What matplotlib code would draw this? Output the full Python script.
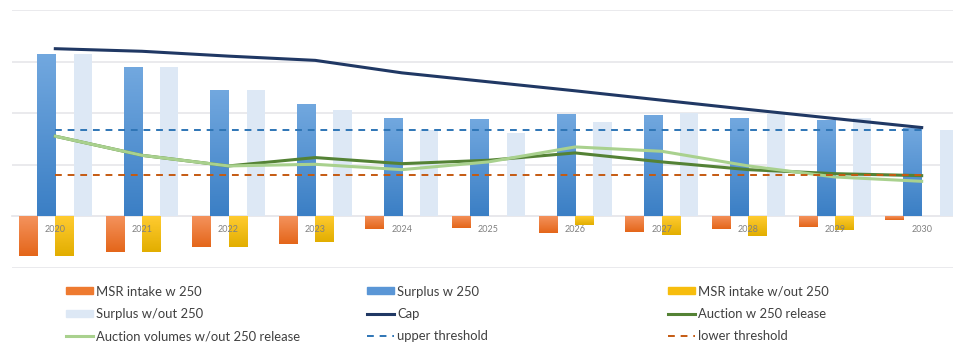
import numpy as np
import matplotlib.pyplot as plt
from matplotlib.colors import LinearSegmentedColormap
from matplotlib.patches import Patch
from matplotlib.lines import Line2D

plt.rcParams['font.family'] = ['Lato', 'DejaVu Sans']

years = [str(y) for y in range(2020, 2031)]
msr_w250 = [-382, -346, -298, -265, -126, -117, -159, -152, -126, -100, -32]
surplus_w250 = [1573, 1447, 1223, 1087, 955, 948, 990, 981, 955, 932, 861]
msr_wo250 = [-382, -346, -298, -252, 0, 0, -81, -178, -191, -129, 0]
surplus_wo250 = [1573, 1447, 1223, 1029, 835, 809, 913, 1003, 997, 958, 835]
cap = [1625, 1600, 1553, 1512, 1391, 1304, 1217, 1126, 1036, 948, 861]
auction_w250 = [777, 592, 489, 570, 511, 544, 615, 528, 453, 414, 395]
auction_wo250 = [777, 592, 489, 505, 453, 528, 673, 631, 489, 382, 340]
upper_threshold = 833
lower_threshold = 400

W, H = 954, 342
fig = plt.figure(figsize=(W / 100, H / 100), dpi=100)
ax = fig.add_axes([12 / W, (H - 268) / H, (965 - 12) / W, 258 / H])

x = np.arange(len(years))
bw = 0.21


def gradient_bars(ax, xpos, vals, top, bottom, **kw):
    bars = ax.bar(xpos, vals, bw, color=bottom, **kw)
    cmap = LinearSegmentedColormap.from_list('g', [bottom, top])
    grad = np.linspace(0, 1, 64).reshape(-1, 1)
    for b in bars:
        x0, y0 = b.get_x(), b.get_y()
        w, h = b.get_width(), b.get_height()
        if h == 0:
            continue
        lo, hi = min(y0, y0 + h), max(y0, y0 + h)
        im = ax.imshow(grad, cmap=cmap, extent=[x0, x0 + w, lo, hi],
                       origin='lower', aspect='auto', zorder=b.get_zorder())
        im.set_clip_path(b)
    return bars


gradient_bars(ax, x - 1.5 * bw, msr_w250, '#f4925c', '#e4661a', zorder=2)
gradient_bars(ax, x - 0.5 * bw, surplus_w250, '#72a8df', '#3b7fc5', zorder=2)
gradient_bars(ax, x + 0.5 * bw, msr_wo250, '#ffcb30', '#e2ae00', zorder=2)
ax.bar(x + 1.5 * bw, surplus_wo250, bw, color='#dde8f5', zorder=2)

ax.plot(x, cap, color='#203864', lw=2.2, zorder=4)
ax.plot(x, auction_w250, color='#548235', lw=2.2, zorder=4)
ax.plot(x, auction_wo250, color='#a9d18e', lw=2.2, zorder=4)
ax.plot(x, np.full(len(x), upper_threshold), color='#2e75b6', lw=1.4,
        ls=(0, (3.5, 3)), zorder=5)
ax.plot(x, np.full(len(x), lower_threshold), color='#c55a11', lw=1.4,
        ls=(0, (3.5, 3)), zorder=5)

ax.set_xlim(-0.5, 10.5)
ax.set_ylim(-500, 2000)
ax.set_yticks(np.arange(-500, 2001, 500))
ax.yaxis.grid(True, color='#e8e8ec', lw=1.3)
ax.tick_params(axis='y', left=False, labelleft=False)
for s in ['left', 'right', 'top']:
    ax.spines[s].set_visible(False)
ax.spines['bottom'].set_position(('data', 0))
ax.spines['bottom'].set_color('#e8e8ec')
ax.spines['bottom'].set_linewidth(1.3)
ax.spines['bottom'].set_zorder(1)
ax.set_xticks(x, years)
ax.tick_params(axis='x', length=0, pad=6, labelsize=6.5, labelcolor='#808080')
# grid behind the bars, year labels on top of them
ax.yaxis.set_zorder(0.5)
ax.xaxis.set_zorder(6)
ax.set_facecolor('none')

# legend laid out as three separate columns
rows = [
    [Patch(color='#ee7a30'), Patch(color='#dde8f5'), Line2D([], [], color='#a9d18e', lw=2.2)],
    [Patch(color='#5a96d6'), Line2D([], [], color='#203864', lw=2.2),
     Line2D([], [], color='#2e75b6', lw=1.4, ls=(0, (3.5, 3)))],
    [Patch(color='#f7bd0d'), Line2D([], [], color='#548235', lw=2.2),
     Line2D([], [], color='#c55a11', lw=1.4, ls=(0, (3.5, 3)))],
]
labels = [
    ['MSR intake w 250', 'Surplus w/out 250', 'Auction volumes w/out 250 release'],
    ['Surplus w 250', 'Cap', 'upper threshold'],
    ['MSR intake w/out 250', 'Auction w 250 release', 'lower threshold'],
]
col_x = [66, 367, 668]
for hs, ls, cx in zip(rows, labels, col_x):
    fig.legend(hs, ls, loc='upper left', bbox_to_anchor=(cx / W, 1 - 285.5 / H),
               frameon=False, borderpad=0, borderaxespad=0, fontsize=9.4,
               handlelength=2.05, handleheight=0.45, handletextpad=0.25,
               labelspacing=0.8, labelcolor='#404040')

fig.savefig('out.png', dpi=100)
